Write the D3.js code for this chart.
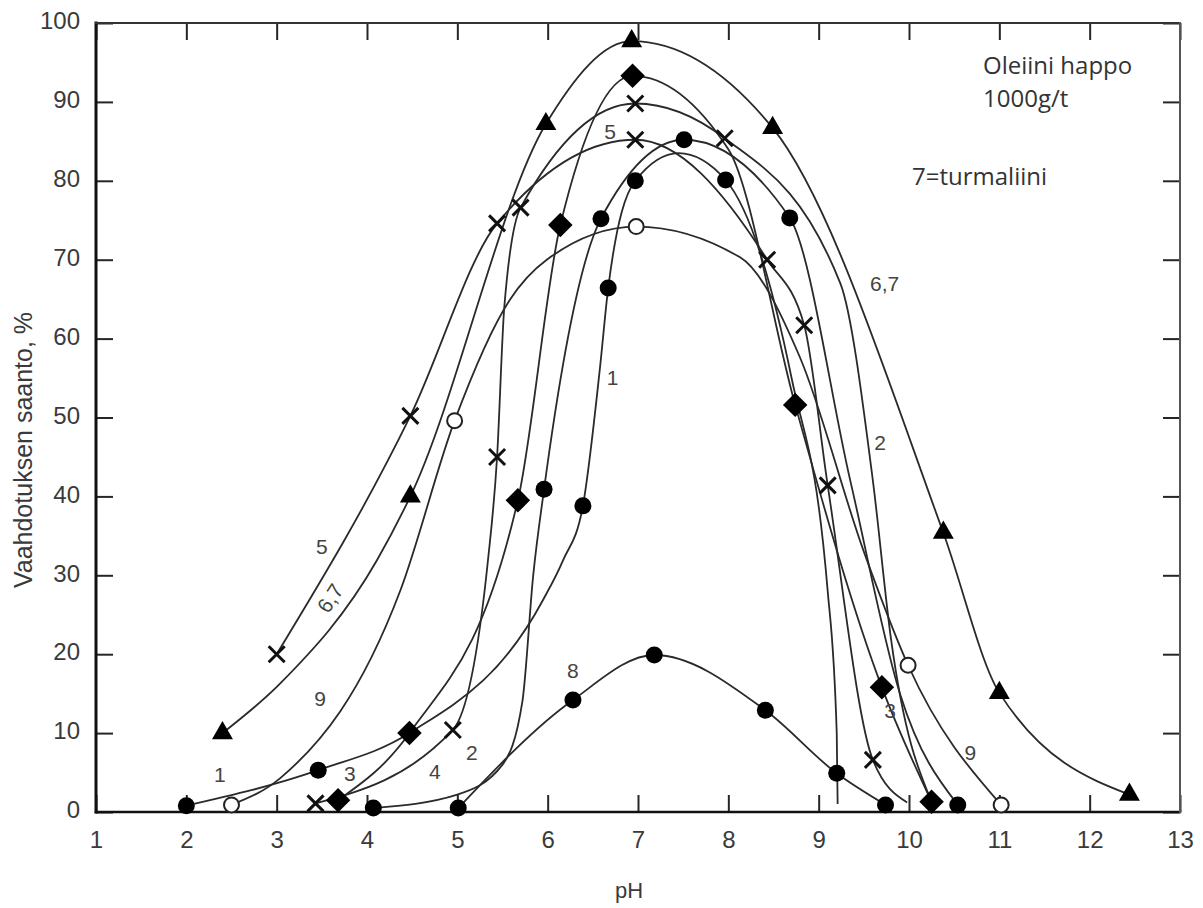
<!DOCTYPE html>
<html>
<head>
<meta charset="utf-8">
<script src="https://cdn.jsdelivr.net/npm/d3@7"></script>
<style>
  body { margin: 0; background: #fff; }
</style>
</head>
<body>
<div id="chart"></div>
<script>
// x = pH, y = vaahdotuksen saanto %
var phTicks = [1, 2, 3, 4, 5, 6, 7, 8, 9, 10, 11, 12, 13]
var yieldTicks = [0, 10, 20, 30, 40, 50, 60, 70, 80, 90, 100]

// point = [pH, saanto, 1 = measured (marker drawn), 0 = only on the fitted curve]
var curve67 = [[2.4, 10, 1], [3.04, 16.3, 0], [4.11, 31.9, 0], [4.48, 40, 1], [5.98, 87.2, 1], [6.93, 97.7, 1],
  [8.49, 86.7, 1], [10.38, 35.4, 1], [11.0, 15.1, 1], [12.44, 2.2, 1]]
var curve5 = [[3, 20, 1], [4.48, 50.2, 1], [5.44, 74.6, 1], [6.97, 85.2, 1], [8.43, 70, 1], [8.84, 61.7, 1],
  [9.10, 41.4, 1], [9.60, 6.6, 1], [9.98, 1.2, 0]]
var curve2 = [[3.43, 1.1, 1], [4.95, 10.4, 1], [5.34, 32, 0], [5.44, 45, 1], [5.52, 64, 0], [5.70, 76.6, 1],
  [6.97, 89.8, 1], [7.96, 85.4, 1], [9.24, 67, 0], [9.6, 42, 0], [9.8, 22, 0], [10.25, 1.3, 0]]
var curve3 = [[3.68, 1.5, 1], [4.47, 10, 1], [5.67, 39.5, 1], [6.14, 74.4, 1], [6.94, 93.3, 1], [8.0, 84, 0],
  [8.74, 51.6, 1], [9.70, 15.8, 1], [10.25, 1.3, 1]]
var curve1 = [[2, 0.8, 1], [3.46, 5.3, 1], [4.47, 10, 0], [5.95, 26.9, 0], [6.17, 31.9, 0], [6.39, 38.8, 1],
  [6.58, 56.4, 0], [6.67, 66.4, 1], [6.97, 80, 1], [7.45, 83.5, 0], [7.97, 80.1, 1], [8.7, 55, 0], [9.1, 28, 0],
  [9.2, 10, 0], [9.21, 1, 0]]
var curve4 = [[4.07, 0.5, 1], [5.0, 2.2, 0], [5.5, 6, 0], [5.72, 14, 0], [5.84, 30, 0], [5.96, 40.9, 1],
  [6.59, 75.2, 1], [7.51, 85.2, 1], [8.68, 75.3, 1], [9.35, 42, 0], [9.9, 15, 0], [10.54, 0.9, 1]]
var curve8 = [[5.01, 0.5, 1], [6.28, 14.2, 1], [7.18, 19.9, 1], [8.41, 12.9, 1], [9.2, 4.9, 1], [9.74, 0.9, 1]]
var curve9 = [[2.5, 0.9, 1], [3.04, 4.3, 0], [4.37, 28.1, 0], [4.97, 49.6, 1], [5.58, 64.9, 0], [5.99, 70, 0],
  [6.98, 74.2, 1], [8.13, 70.3, 0], [8.79, 57.7, 0], [9.5, 33, 0], [9.99, 18.6, 1], [11.02, 0.9, 1]]

var series = [
  {name: "6,7", shape: "triangle", points: curve67},
  {name: "5", shape: "cross", points: curve5},
  {name: "2", shape: "cross", points: curve2},
  {name: "3", shape: "diamond", points: curve3},
  {name: "1", shape: "dot", points: curve1},
  {name: "4", shape: "dot", points: curve4},
  {name: "8", shape: "dot", points: curve8},
  {name: "9", shape: "ring", points: curve9}
]

// curve numbers written next to the lines: [text, pH, saanto, angle]
var curveLabels = [
  ["5", 6.69, 86.2, 0], ["5", 3.50, 33.6, 0], ["6,7", 3.59, 27.1, -57], ["9", 3.48, 14.4, 0],
  ["1", 2.37, 4.7, 0], ["3", 3.81, 4.9, 0], ["4", 4.75, 5.1, 0], ["2", 5.16, 7.6, 0],
  ["8", 6.28, 18.0, 0], ["1", 6.72, 55.1, 0], ["6,7", 9.73, 67.0, 0], ["2", 9.68, 46.8, 0],
  ["3", 9.79, 12.9, 0], ["9", 10.68, 7.6, 0]
]

var notes = ["Oleiini happo", "1000g/t", "7=turmaliini"]

var width = 1203
var height = 908
var margin = {top: 23, right: 23, bottom: 96, left: 96}

var x = d3.scaleLinear().domain([1, 13]).range([margin.left, width - margin.right])
var y = d3.scaleLinear().domain([0, 100]).range([height - margin.bottom, margin.top])

var svg = d3.select("#chart").append("svg")
  .attr("width", width)
  .attr("height", height)
  .style("background", "#fff")

var ink = "#262626"
var textInk = "#3a3a3a"

// axes, ticks pointing inward on all four sides
function styleAxis(g) {
  g.select(".domain").remove()
  g.selectAll(".tick line").attr("stroke", ink).attr("stroke-width", 2)
  g.selectAll(".tick text")
    .attr("fill", textInk)
    .attr("font-family", "'Liberation Sans', Arial, sans-serif")
    .attr("font-size", 24)
}

svg.append("g")
  .attr("transform", `translate(0,${y(0)})`)
  .call(d3.axisBottom(x).tickValues(phTicks).tickSize(-17).tickPadding(19).tickFormat(d3.format("d")))
  .call(styleAxis)

svg.append("g")
  .attr("transform", `translate(${x(1)},0)`)
  .call(d3.axisLeft(y).tickValues(yieldTicks).tickSize(-17).tickPadding(16).tickFormat(d3.format("d")))
  .call(styleAxis)
  .call(g => g.selectAll(".tick text").attr("dy", "0.24em"))

svg.append("g")
  .attr("transform", `translate(0,${y(100)})`)
  .call(d3.axisTop(x).tickValues(phTicks).tickSize(-17).tickFormat(""))
  .call(styleAxis)

svg.append("g")
  .attr("transform", `translate(${x(13)},0)`)
  .call(d3.axisRight(y).tickValues(yieldTicks).tickSize(-17).tickFormat(""))
  .call(styleAxis)

// frame
var frame = svg.append("g").attr("stroke-linecap", "square")
frame.append("line").attr("x1", x(1)).attr("x2", x(1)).attr("y1", y(0)).attr("y2", y(100))
  .attr("stroke", "#111").attr("stroke-width", 3)
frame.append("line").attr("x1", x(1)).attr("x2", x(13)).attr("y1", y(0)).attr("y2", y(0))
  .attr("stroke", "#111").attr("stroke-width", 2.5)
frame.append("line").attr("x1", x(1)).attr("x2", x(13)).attr("y1", y(100)).attr("y2", y(100))
  .attr("stroke", "#333").attr("stroke-width", 2)
frame.append("line").attr("x1", x(13)).attr("x2", x(13)).attr("y1", y(0)).attr("y2", y(100))
  .attr("stroke", "#555").attr("stroke-width", 2)

// curves
var line = d3.line()
  .x(d => x(d[0]))
  .y(d => y(d[1]))
  .curve(d3.curveMonotoneX)

svg.append("g")
  .attr("fill", "none")
  .attr("stroke", "#2a2a2a")
  .attr("stroke-width", 1.8)
  .selectAll("path")
  .data(series)
  .join("path")
    .attr("d", s => line(s.points))

// markers
var markers = svg.append("g")
series.forEach(s => {
  var pts = s.points.filter(p => p[2] === 1)
  var g = markers.append("g")
  if (s.shape === "triangle") {
    g.selectAll("path").data(pts).join("path")
      .attr("d", d3.symbol(d3.symbolTriangle, 190))
      .attr("transform", d => `translate(${x(d[0])},${y(d[1])})`)
      .attr("fill", "#000")
  } else if (s.shape === "diamond") {
    g.selectAll("path").data(pts).join("path")
      .attr("d", d3.symbol(d3.symbolSquare, 300))
      .attr("transform", d => `translate(${x(d[0])},${y(d[1])}) rotate(45)`)
      .attr("fill", "#000")
  } else if (s.shape === "cross") {
    g.selectAll("path").data(pts).join("path")
      .attr("d", "M-8,-8L8,8M-8,8L8,-8")
      .attr("transform", d => `translate(${x(d[0])},${y(d[1])})`)
      .attr("stroke", "#111")
      .attr("stroke-width", 3)
      .attr("fill", "none")
  } else if (s.shape === "dot") {
    g.selectAll("circle").data(pts).join("circle")
      .attr("cx", d => x(d[0]))
      .attr("cy", d => y(d[1]))
      .attr("r", 8.5)
      .attr("fill", "#000")
  } else {
    g.selectAll("circle").data(pts).join("circle")
      .attr("cx", d => x(d[0]))
      .attr("cy", d => y(d[1]))
      .attr("r", 7.5)
      .attr("fill", "#fff")
      .attr("stroke", "#222")
      .attr("stroke-width", 2)
  }
})

// curve numbers
svg.append("g")
  .attr("font-family", "'Liberation Sans', Arial, sans-serif")
  .attr("font-size", 21)
  .attr("fill", "#444")
  .attr("text-anchor", "middle")
  .selectAll("text")
  .data(curveLabels)
  .join("text")
    .attr("transform", d => `translate(${x(d[1])},${y(d[2])}) rotate(${d[3]})`)
    .attr("dy", "0.36em")
    .text(d => d[0])

// axis titles
svg.append("text")
  .attr("x", 629)
  .attr("y", 898)
  .attr("text-anchor", "middle")
  .attr("font-family", "'Liberation Sans', Arial, sans-serif")
  .attr("font-size", 22)
  .attr("fill", textInk)
  .text("pH")

svg.append("text")
  .attr("transform", "translate(32,450) rotate(-90)")
  .attr("text-anchor", "middle")
  .attr("font-family", "'Liberation Sans', Arial, sans-serif")
  .attr("font-size", 25)
  .attr("fill", textInk)
  .text("Vaahdotuksen saanto, %")

// notes in the upper right corner
var noteG = svg.append("g")
  .attr("font-family", "'Open Sans', sans-serif")
  .attr("font-size", 24)
  .attr("fill", "#333")
noteG.append("text").attr("x", 983).attr("y", 74).text(notes[0])
noteG.append("text").attr("x", 983).attr("y", 107).text(notes[1])
noteG.append("text").attr("x", 912).attr("y", 185).text(notes[2])
</script>
</body>
</html>
